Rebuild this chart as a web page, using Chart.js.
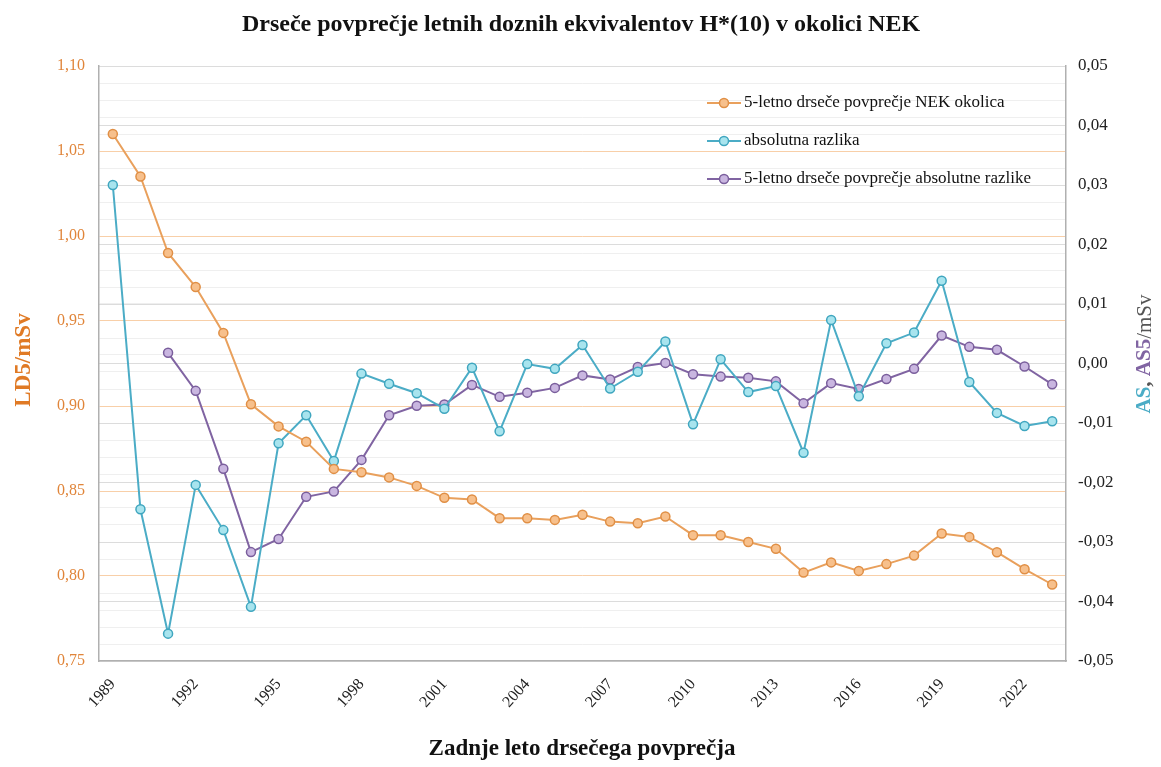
<!DOCTYPE html>
<html lang="sl">
<head>
    <meta charset="UTF-8">
    <title>Drseče povprečje letnih doznih ekvivalentov</title>
    <script src="https://cdn.jsdelivr.net/npm/chart.js"></script>
    <style>
        body { margin: 0; padding: 0; background: #ffffff; }
        .wrap { width: 1161px; height: 767px; position: relative; }
    </style>
</head>
<body>
<div class="wrap">
    <canvas id="graf"></canvas>
</div>
<script>
    // podatki
    const leta = [];
    for (let l = 1989; l <= 2023; l++) leta.push(String(l));

    const ld5 = [1.060, 1.035, 0.990, 0.970, 0.943, 0.901, 0.888, 0.879, 0.863, 0.861, 0.858, 0.853,
        0.846, 0.845, 0.834, 0.834, 0.833, 0.836, 0.832, 0.831, 0.835, 0.824,
        0.824, 0.820, 0.816, 0.802, 0.808, 0.803, 0.807, 0.812, 0.825, 0.823, 0.814, 0.804, 0.795];

    const absRazlika = [0.0300, -0.0245, -0.0454, -0.0204, -0.0280, -0.0409, -0.0134, -0.0087, -0.0164, -0.0017, -0.0034, -0.0050,
        -0.0076, -0.0007, -0.0114, -0.0001, -0.0009, 0.0031, -0.0042, -0.0014, 0.0037, -0.0102,
        0.0007, -0.0048, -0.0038, -0.0150, 0.0073, -0.0055, 0.0034, 0.0052, 0.0139, -0.0031, -0.0083, -0.0105, -0.0097];

    const as5 = [null, null, 0.0018, -0.0046, -0.0177, -0.0317, -0.0295, -0.0224, -0.0215, -0.0162, -0.0087, -0.0071,
        -0.0069, -0.0036, -0.0056, -0.0049, -0.0041, -0.0020, -0.0027, -0.0006, 0.0001, -0.0018,
        -0.0022, -0.0024, -0.0030, -0.0067, -0.0033, -0.0043, -0.0026, -0.0009, 0.0047, 0.0028, 0.0023, -0.0005, -0.0035];

    const oznake = ['5-letno drseče povprečje NEK okolica', 'absolutna razlika', '5-letno drseče povprečje absolutne razlike'];

    const oranzna = '#E9A05C';
    const cian = '#4BACC6';
    const vijolicna = '#8064A2';
    const serif = "'Liberation Serif', 'DejaVu Serif', serif";

    // naslovi in legenda
    const napisi = {
        id: 'napisi',
        afterDatasetsDraw(chart) {
            const ctx = chart.ctx;
            ctx.save();
            ctx.fillStyle = '#111';
            ctx.textAlign = 'center';
            ctx.textBaseline = 'middle';
            ctx.font = 'bold 24px ' + serif;
            ctx.fillText('Drseče povprečje letnih doznih ekvivalentov H*(10) v okolici NEK', 581, 25);
            ctx.font = 'bold 23px ' + serif;
            ctx.fillText('Zadnje leto drsečega povprečja', 582, 749);

            // leva os
            ctx.save();
            ctx.translate(24, 360);
            ctx.rotate(-Math.PI / 2);
            ctx.fillStyle = '#E07A25';
            ctx.font = 'bold 23px ' + serif;
            ctx.fillText('LD5/mSv', 0, 0);
            ctx.restore();

            // desna os, vec barv
            ctx.save();
            ctx.translate(1145, 354);
            ctx.rotate(-Math.PI / 2);
            const deli = [['AS', cian, 'bold'], [', ', '#555', 'bold'], ['AS5', vijolicna, 'bold'], ['/mSv', '#555', 'normal']];
            let sirina = 0;
            deli.forEach(d => { ctx.font = d[2] + ' 21px ' + serif; sirina += ctx.measureText(d[0]).width; });
            let x = -sirina / 2;
            ctx.textAlign = 'left';
            deli.forEach(d => {
                ctx.font = d[2] + ' 21px ' + serif;
                ctx.fillStyle = d[1];
                ctx.fillText(d[0], x, 0);
                x += ctx.measureText(d[0]).width;
            });
            ctx.restore();

            // legenda
            const barve = [oranzna, cian, vijolicna];
            const polnila = ['#F7C08C', '#A8E4EE', '#C9B6E0'];
            const robovi = ['#E08F45', '#3FA6BF', '#7A5E9C'];
            ctx.font = '17px ' + serif;
            ctx.textAlign = 'left';
            oznake.forEach((t, i) => {
                const y = 103 + i * 38;
                ctx.strokeStyle = barve[i];
                ctx.lineWidth = 2;
                ctx.beginPath();
                ctx.moveTo(707, y);
                ctx.lineTo(741, y);
                ctx.stroke();
                ctx.beginPath();
                ctx.arc(724, y, 4.5, 0, Math.PI * 2);
                ctx.fillStyle = polnila[i];
                ctx.fill();
                ctx.lineWidth = 1.5;
                ctx.strokeStyle = robovi[i];
                ctx.stroke();
                ctx.fillStyle = '#111';
                ctx.fillText(t, 744, y);
            });
            ctx.restore();
        }
    };

    const ctx = document.getElementById('graf').getContext('2d');
    new Chart(ctx, {
        type: 'line',
        data: {
            labels: leta,
            datasets: [{
                label: oznake[0],
                data: ld5,
                yAxisID: 'yL',
                borderColor: oranzna,
                backgroundColor: '#F7C08C',
                pointBorderColor: '#E08F45',
                borderWidth: 2,
                pointRadius: 4.5,
                pointBorderWidth: 1.5
            }, {
                label: oznake[1],
                data: absRazlika,
                yAxisID: 'yR',
                borderColor: cian,
                backgroundColor: '#A8E4EE',
                pointBorderColor: '#3FA6BF',
                borderWidth: 2,
                pointRadius: 4.5,
                pointBorderWidth: 1.5
            }, {
                label: oznake[2],
                data: as5,
                yAxisID: 'yR',
                borderColor: vijolicna,
                backgroundColor: '#C9B6E0',
                pointBorderColor: '#7A5E9C',
                borderWidth: 2,
                pointRadius: 4.5,
                pointBorderWidth: 1.5
            }]
        },
        options: {
            responsive: true,
            maintainAspectRatio: false,
            animation: false,
            layout: { padding: { top: 66, left: 0, right: 0, bottom: 0 } },
            plugins: {
                legend: { display: false },
                tooltip: { enabled: false }
            },
            scales: {
                x: {
                    offset: true,
                    grid: { display: false },
                    border: { display: true, color: '#b0b0b0', width: 1.5 },
                    afterFit(s) { s.height = 106; },
                    ticks: {
                        autoSkip: false,
                        maxRotation: 48,
                        minRotation: 48,
                        padding: 6,
                        color: '#222',
                        font: { family: serif, size: 16 },
                        callback(v, i) { return i % 3 === 0 ? this.getLabelForValue(v) : ''; }
                    }
                },
                yL: {
                    position: 'left',
                    min: 0.75,
                    max: 1.10,
                    afterFit(s) { s.width = 99; },
                    border: { display: true, color: '#b0b0b0', width: 1.5 },
                    grid: {
                        drawTicks: false,
                        color(c) {
                            const v = Math.round(c.tick.value * 100);
                            if (v === 110) return '#b8b8b8';
                            return v % 5 === 0 ? '#F8CFA8' : '#efefef';
                        }
                    },
                    ticks: {
                        stepSize: 0.01,
                        autoSkip: false,
                        padding: 14,
                        color: '#E0853A',
                        font: { family: serif, size: 16 },
                        callback(v) {
                            const c = Math.round(v * 100);
                            return c % 5 === 0 ? (c / 100).toFixed(2).replace('.', ',') : '';
                        }
                    }
                },
                yR: {
                    position: 'right',
                    min: -0.05,
                    max: 0.05,
                    afterFit(s) { s.width = 95; },
                    border: { display: true, color: '#b0b0b0', width: 1.5 },
                    grid: {
                        drawTicks: false,
                        drawOnChartArea: true,
                        color: '#dcdcdc'
                    },
                    ticks: {
                        stepSize: 0.01,
                        padding: 12,
                        color: '#222',
                        font: { family: serif, size: 17 },
                        callback(v) { return (Math.round(v * 100) / 100).toFixed(2).replace('.', ','); }
                    }
                }
            }
        },
        plugins: [napisi]
    });
</script>
</body>
</html>
